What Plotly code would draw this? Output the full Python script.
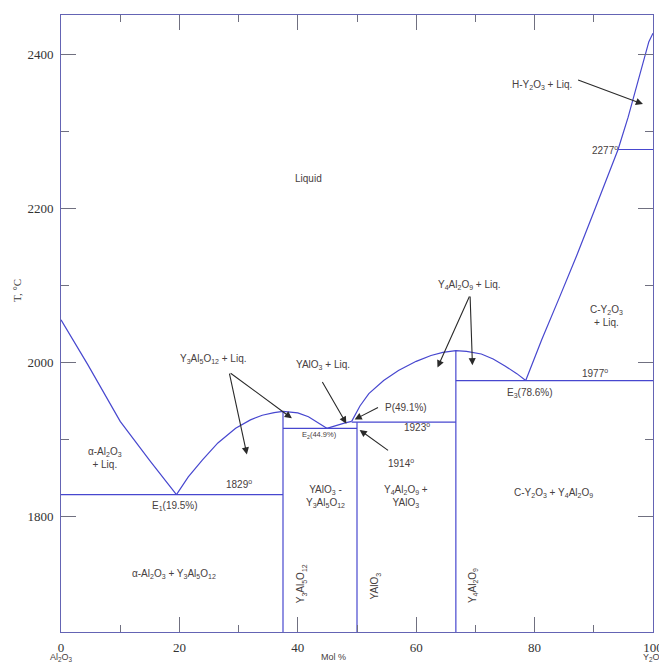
import plotly.graph_objects as go

# ---------------- data (mol % Y2O3, temperature in °C) ----------------
al2o3_liq_x = [0, 4.5, 10, 15, 19.5]
al2o3_liq_t = [2056, 1998, 1924, 1873, 1829]

yag_liq_x = [19.5, 21.5, 23.9, 26.5, 29.5, 32, 34, 36, 37.5, 40, 41.8, 43.5, 44.9]
yag_liq_t = [1829, 1852, 1874, 1896, 1915, 1926, 1932, 1935.5, 1937, 1935, 1930, 1922, 1915]

yap_liq_x = [44.9, 46.5, 48, 49.1]
yap_liq_t = [1915, 1919, 1922, 1924]

yam_liq_x = [49.1, 50.5, 52, 54.5, 57, 60, 62.5, 64.5, 66.7, 68.5, 71, 73, 75, 77, 78.5]
yam_liq_t = [1924, 1944, 1960, 1977, 1990, 2002, 2009.5, 2013.5, 2016, 2015, 2011.5, 2005, 1996, 1986, 1977]

y2o3_liq_x = [78.5, 81.2, 84.2, 87.1, 89.9, 92.4, 94.1, 95.8, 97.3, 98.5, 99.3, 100]
y2o3_liq_t = [1977, 2030, 2085, 2139, 2194, 2244, 2277, 2319, 2361, 2396, 2417, 2428]

# invariant isotherms
iso_x0 = [0, 37.5, 49.1, 66.7, 94.1]
iso_x1 = [37.5, 50, 66.7, 100, 100]
iso_t = [1829, 1915, 1923, 1977, 2277]

# compounds (vertical lines): composition and top temperature
comp_x = [37.5, 50, 66.7]
comp_top_t = [1937, 1923, 2016]
t_bottom = 1650

x_ticks = [0, 20, 40, 60, 80, 100]
x_minor = [10, 30, 50, 70, 90]
y_ticks = [1800, 2000, 2200, 2400]
y_minor = [1900, 2100, 2300]

# labels: text, x, T, font size, angle
labels = [
    ("Liquid", 41.8, 2239, 10, 0),
    ("H-Y<sub>2</sub>O<sub>3</sub> + Liq.", 81.2, 2361, 10, 0),
    ("2277<sup>o</sup>", 91.9, 2276, 10, 0),
    ("C-Y<sub>2</sub>O<sub>3</sub><br>+ Liq.", 92.2, 2061, 10, 0),
    ("1977<sup>o</sup>", 90.2, 1987, 10, 0),
    ("E<sub>3</sub>(78.6%)", 79.3, 1961, 10, 0),
    ("Y<sub>4</sub>Al<sub>2</sub>O<sub>9</sub> + Liq.", 69.0, 2101, 10, 0),
    ("C-Y<sub>2</sub>O<sub>3</sub> + Y<sub>4</sub>Al<sub>2</sub>O<sub>9</sub>", 83.2, 1831, 10, 0),
    ("Y<sub>4</sub>Al<sub>2</sub>O<sub>9</sub> +<br>YAlO<sub>3</sub>", 58.3, 1826, 10, 0),
    ("YAlO<sub>3</sub> -<br>Y<sub>3</sub>Al<sub>5</sub>O<sub>12</sub>", 44.6, 1827, 10, 0),
    ("1914<sup>o</sup>", 57.4, 1870, 10, 0),
    ("1923<sup>o</sup>", 60.2, 1917, 10, 0),
    ("P(49.1%)", 58.3, 1942, 10, 0),
    ("YAlO<sub>3</sub> + Liq.", 44.3, 1997, 10, 0),
    ("Y<sub>3</sub>Al<sub>5</sub>O<sub>12</sub> + Liq.", 25.8, 2005, 10, 0),
    ("α-Al<sub>2</sub>O<sub>3</sub><br>+ Liq.", 7.4, 1876, 10, 0),
    ("1829<sup>o</sup>", 30.0, 1843, 10, 0),
    ("E<sub>1</sub>(19.5%)", 19.3, 1814, 10, 0),
    ("E<sub>2</sub>(44.9%)", 43.6, 1906, 7.5, 0),
    ("α-Al<sub>2</sub>O<sub>3</sub> + Y<sub>3</sub>Al<sub>5</sub>O<sub>12</sub>", 19.1, 1726, 10, 0),
    ("Y<sub>3</sub>Al<sub>5</sub>O<sub>12</sub>", 40.6, 1713, 10, -90),
    ("YAlO<sub>3</sub>", 53.2, 1711, 10, -90),
    ("Y<sub>4</sub>Al<sub>2</sub>O<sub>9</sub>", 69.7, 1711, 10, -90),
]

# arrows: tail x, tail T, head x, head T
arrows = [
    (87.1, 2368, 98.3, 2336),
    (28.4, 1988, 39.0, 1928),
    (28.4, 1988, 31.4, 1881),
    (44.0, 1977, 48.2, 1921),
    (53.8, 1943, 49.6, 1926.5),
    (55.5, 1885, 50.45, 1913),
    (69.1, 2088, 63.6, 1994),
    (69.1, 2088, 69.5, 1997),
]

LINE = "#4747cf"
TXT = "#474040"
SANS = "Liberation Sans, Arial, sans-serif"
SERIF = "Liberation Serif, Times New Roman, serif"

fig = go.Figure()

curves = [
    (al2o3_liq_x, al2o3_liq_t),
    (yag_liq_x, yag_liq_t),
    (yap_liq_x, yap_liq_t),
    (yam_liq_x, yam_liq_t),
    (y2o3_liq_x, y2o3_liq_t),
]
for cx, ct in curves:
    fig.add_trace(go.Scatter(x=cx, y=ct, mode="lines",
                             line=dict(color=LINE, width=1.2), hoverinfo="skip"))

for x0, x1, t in zip(iso_x0, iso_x1, iso_t):
    fig.add_trace(go.Scatter(x=[x0, x1], y=[t, t], mode="lines",
                             line=dict(color=LINE, width=1.2), hoverinfo="skip"))

for cx, ct in zip(comp_x, comp_top_t):
    fig.add_trace(go.Scatter(x=[cx, cx], y=[t_bottom, ct], mode="lines",
                             line=dict(color=LINE, width=1.2), hoverinfo="skip"))

annotations = []
for text, x, t, size, ang in labels:
    annotations.append(dict(x=x, y=t, xref="x", yref="y", text=text, showarrow=False,
                            xanchor="center", yanchor="middle",
                            textangle=ang, font=dict(family=SANS, size=size, color=TXT)))

for tx, tt, hx, ht in arrows:
    annotations.append(dict(x=hx, y=ht, xref="x", yref="y", ax=tx, ay=tt,
                            axref="x", ayref="y", text="", showarrow=True,
                            arrowhead=2, arrowsize=1.3, arrowwidth=1.1,
                            arrowcolor="#2a2a2a", standoff=0, startstandoff=0))

# axis titles / end-member labels
annotations += [
    dict(x=-0.074, y=0.553, xref="paper", yref="paper", text="T, °C", showarrow=False,
         xanchor="center", yanchor="middle",
         textangle=-90, font=dict(family=SERIF, size=11, color="#333")),
    dict(x=0.0, y=-0.042, xref="paper", yref="paper", text="Al<sub>2</sub>O<sub>3</sub>",
         xanchor="center", yanchor="middle",
         showarrow=False, font=dict(family=SANS, size=9, color=TXT)),
    dict(x=0.46, y=-0.040, xref="paper", yref="paper", text="Mol %",
         xanchor="center", yanchor="middle",
         showarrow=False, font=dict(family=SANS, size=9, color=TXT)),
    dict(x=1.0, y=-0.042, xref="paper", yref="paper", text="Y<sub>2</sub>O<sub>3</sub>",
         xanchor="center", yanchor="middle",
         showarrow=False, font=dict(family=SANS, size=9, color=TXT)),
]

axis_common = dict(showline=True, mirror="ticks", linecolor="#6464b4", linewidth=1,
                   ticks="inside", tickcolor="#707080", tickwidth=1, ticklen=15,
                   showgrid=False, zeroline=False,
                   tickfont=dict(family=SERIF, size=13, color="#333"))

# the figure runs past the right window edge, as the reference is cropped there
fig.update_layout(
    width=675, height=667, autosize=False,
    margin=dict(l=61, r=18, t=15, b=30),
    paper_bgcolor="white", plot_bgcolor="white",
    showlegend=False,
    annotations=annotations,
    xaxis=dict(range=[0, 100], tickvals=x_ticks, ticktext=[str(v) for v in x_ticks],
               minor=dict(tickvals=x_minor, ticks="inside", ticklen=7, tickcolor="#707080"),
               ticklabelstandoff=3, **axis_common),
    yaxis=dict(range=[1650.6, 2451.6], tickvals=y_ticks, ticktext=[str(v) for v in y_ticks],
               minor=dict(tickvals=y_minor, ticks="inside", ticklen=8, tickcolor="#707080"),
               ticklabelstandoff=4, **axis_common),
)

# remove the default page margin and scrollbars so the figure sits at the window's corner
page_fix = ("document.body.style.margin='0';"
            "document.documentElement.style.overflow='hidden';"
            "document.body.style.overflow='hidden';")

fig.write_html("out.html", post_script=page_fix,
               config={"displayModeBar": False, "responsive": False})
